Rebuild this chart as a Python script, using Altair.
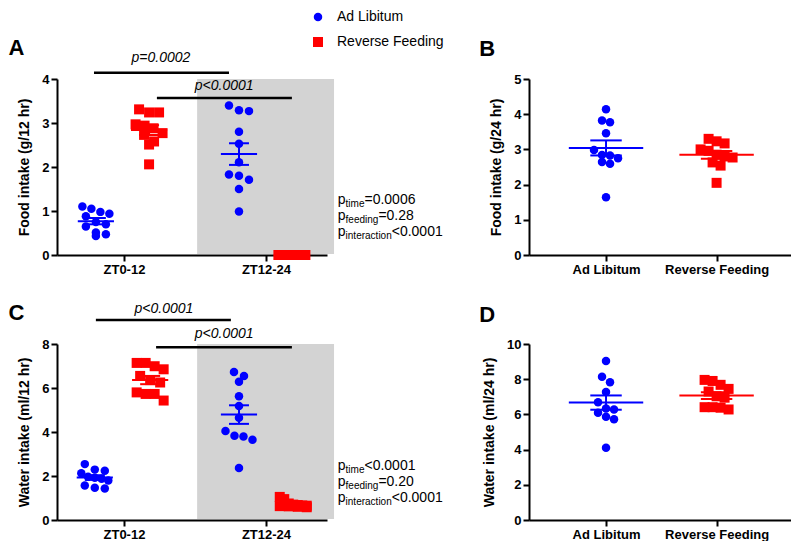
import altair as alt
import numpy as np
import pandas as pd

FONT = "Liberation Sans"
BLUE = "#0000ff"
RED = "#ff0000"
GRAY = "#d3d3d3"

SERIES = ["Ad Libitum", "Reverse Feeding"]
PHASES = ["ZT0-12", "ZT12-24"]

# ---------------- data ----------------
# Panel A: food intake (g/12 hr)
food12_al_zt0 = [1.10, 1.05, 0.98, 0.94, 0.88, 0.75, 0.70, 0.65, 0.51, 0.47, 0.43]
food12_rf_zt0 = [3.31, 3.24, 3.24, 2.97, 2.94, 2.88, 2.77, 2.73, 2.58, 2.51, 2.06]
food12_al_zt12 = [3.40, 3.29, 3.27, 2.80, 2.53, 2.11, 1.83, 1.80, 1.71, 1.50, 0.99]
food12_rf_zt12 = [0.0, 0.0, 0.0, 0.0, 0.0, 0.0, 0.0, 0.0, 0.0, 0.0, 0.0]
# Panel B: food intake (g/24 hr)
food24_al = [4.14, 3.82, 3.77, 3.46, 2.98, 2.84, 2.83, 2.75, 2.64, 2.59, 1.64]
food24_rf = [3.30, 3.23, 3.17, 3.00, 2.96, 2.85, 2.80, 2.77, 2.63, 2.54, 2.05]
# Panel C: water intake (ml/12 hr)
water12_al_zt0 = [2.54, 2.29, 2.24, 2.12, 1.97, 1.92, 1.87, 1.80, 1.57, 1.47, 1.43]
water12_rf_zt0 = [7.14, 7.14, 6.99, 6.85, 6.55, 6.36, 6.25, 5.80, 5.73, 5.73, 5.43]
water12_al_zt12 = [6.73, 6.55, 6.28, 5.63, 5.18, 4.65, 4.05, 3.83, 3.80, 3.65, 2.36]
water12_rf_zt12 = [1.05, 0.95, 0.75, 0.70, 0.68, 0.66, 0.65, 0.63, 0.62, 0.60, 0.58]
# Panel D: water intake (ml/24 hr)
water24_al = [9.03, 8.14, 7.83, 7.27, 6.69, 6.34, 6.28, 6.10, 5.87, 5.72, 4.11]
water24_rf = [7.96, 7.90, 7.68, 7.45, 7.30, 7.03, 6.95, 6.41, 6.41, 6.38, 6.28]

# comparison labels and two-way ANOVA results
a_compare = ["p=0.0002", "p<0.0001"]
c_compare = ["p<0.0001", "p<0.0001"]
stat_terms = ["time", "feeding", "interaction"]
a_stats = ["=0.0006", "=0.28", "<0.0001"]
c_stats = ["<0.0001", "=0.20", "<0.0001"]

# ---------------- layout ----------------
W12, W24 = 270, 262
H = 176

# Arial-like advance widths (per 1000 em) for subscript layout
CW = {"p": 556, "t": 278, "i": 222, "m": 833, "e": 556, "f": 278, "d": 556,
      "n": 556, "g": 556, "r": 333, "a": 556, "c": 500, "o": 556}


def text_w(s, size):
    return sum(CW.get(ch, 556) for ch in s) * size / 1000.0


def swarm(values, ppy, ppx, step_px=10.0, maxw_px=27.0, thresh_px=9.0):
    vals = np.asarray(values, dtype=float)
    order = np.argsort(-vals, kind="stable")
    rows, cur = [], []
    for idx in order:
        if cur and (vals[cur[0]] - vals[idx]) * ppy >= thresh_px:
            rows.append(cur)
            cur = []
        cur.append(idx)
    if cur:
        rows.append(cur)
    offs = np.zeros(len(vals))
    for row in rows:
        k = len(row)
        if k == 1:
            continue
        step = min(step_px, maxw_px / (k - 1))
        for j, idx in enumerate(row):
            offs[idx] = (j - (k - 1) / 2.0) * step / ppx
    return offs


XSCALE = alt.Scale(domain=[0, 10], nice=False, zero=False)
COLOR_SCALE = alt.Scale(domain=SERIES, range=[BLUE, RED])
SHAPE_SCALE = alt.Scale(domain=SERIES, range=["circle", "square"])
LEG = alt.Legend(orient="none", legendX=254, legendY=-69, title=None,
                 labelFont=FONT, labelFontSize=14, labelColor="black",
                 symbolSize=85, rowPadding=11, labelOffset=12,
                 symbolStrokeWidth=0, padding=0)


def make_panel(letter, letter_xy, groups, ytitle, ymax, ystep, ticks, labels,
               width, height, mean_hw, sem_hw, shade=None, brackets=None,
               stats=None, step_px=10.0, maxw_px=27.0):
    ppy = height / ymax
    ppx = width / 10.0
    pts, hrules, vrules = [], [], []
    for vals, series, center in groups:
        offs = swarm(vals, ppy, ppx, step_px, maxw_px)
        for v, o in zip(vals, offs):
            pts.append(dict(x=center + o, y=v, series=series))
        arr = np.asarray(vals, dtype=float)
        m = arr.mean()
        s = arr.std(ddof=1) / np.sqrt(len(arr))
        hrules.append(dict(x=center - mean_hw, x2=center + mean_hw, y=m, series=series))
        hrules.append(dict(x=center - sem_hw, x2=center + sem_hw, y=m + s, series=series))
        hrules.append(dict(x=center - sem_hw, x2=center + sem_hw, y=m - s, series=series))
        vrules.append(dict(x=center, y=m - s, y2=m + s, series=series))

    mid = (ticks[0] + ticks[1]) / 2.0
    xaxis = alt.Axis(values=ticks, title=None,
                     labelExpr=f"datum.value < {mid} ? '{labels[0]}' : '{labels[1]}'")
    yaxis = alt.Axis(values=list(np.arange(0, ymax + 0.001, ystep)), title=ytitle,
                     format="d")
    X = alt.X("x:Q", scale=XSCALE, axis=xaxis)
    Y = alt.Y("y:Q", scale=alt.Scale(domain=[0, ymax], nice=False), axis=yaxis)
    C = alt.Color("series:N", scale=COLOR_SCALE, legend=LEG)
    S = alt.Shape("series:N", scale=SHAPE_SCALE, legend=LEG)

    layers = []
    if shade is not None:
        sdf = pd.DataFrame([dict(x=shade[0], x2=shade[1], y=0, y2=ymax)])
        layers.append(alt.Chart(sdf).mark_rect(color=GRAY, yOffset=-1).encode(
            x=X, x2="x2:Q", y=Y, y2="y2:Q"))

    layers.append(alt.Chart(pd.DataFrame(pts)).mark_point(
        filled=True, opacity=1, strokeWidth=0).encode(
        x=X, y=Y, color=C, shape=S,
        size=alt.Size("series:N", scale=alt.Scale(domain=SERIES, range=[72, 100]),
                      legend=None)))
    layers.append(alt.Chart(pd.DataFrame(hrules)).mark_rule(strokeWidth=2).encode(
        x=X, x2="x2:Q", y=Y, color=C))
    layers.append(alt.Chart(pd.DataFrame(vrules)).mark_rule(strokeWidth=2).encode(
        x=X, y=Y, y2="y2:Q", color=C))

    if brackets is not None:
        bdf = pd.DataFrame([dict(x=b[0], x2=b[1], y=b[2]) for b in brackets])
        tdf = pd.DataFrame([dict(x=b[3], y=b[4], t=b[5]) for b in brackets])
        layers.append(alt.Chart(bdf).mark_rule(strokeWidth=2.5, color="black").encode(
            x=X, x2="x2:Q", y=Y))
        layers.append(alt.Chart(tdf).mark_text(
            font=FONT, fontSize=14, fontStyle="italic", color="black",
            align="center", baseline="middle").encode(x=X, y=Y, text="t:N"))

    if stats is not None:
        x0, ys, rests = stats
        main_size, sub_size = 14, 10
        wp = text_w("p", main_size) / ppx
        mains, subs = [], []
        for term, rest, yv in zip(stat_terms, rests, ys):
            mains.append(dict(x=x0, y=yv, t="p"))
            subs.append(dict(x=x0 + wp, y=yv, t=term))
            mains.append(dict(x=x0 + wp + text_w(term, sub_size) / ppx, y=yv, t=rest))
        layers.append(alt.Chart(pd.DataFrame(mains)).mark_text(
            font=FONT, fontSize=main_size, color="black", align="left",
            baseline="middle").encode(x=X, y=Y, text="t:N"))
        layers.append(alt.Chart(pd.DataFrame(subs)).mark_text(
            font=FONT, fontSize=sub_size, color="black", align="left",
            baseline="middle", dy=4).encode(x=X, y=Y, text="t:N"))

    ldf = pd.DataFrame([dict(x=letter_xy[0], y=letter_xy[1], t=letter)])
    layers.append(alt.Chart(ldf).mark_text(
        font=FONT, fontSize=22, fontWeight="bold", color="black",
        align="center", baseline="middle").encode(x=X, y=Y, text="t:N"))

    return alt.layer(*layers).properties(width=width, height=height)


ticks12 = [2.48, 7.74]
ticks24 = [2.94, 7.16]

panel_a = make_panel(
    "A", (-1.50, 4.70),
    [(food12_al_zt0, SERIES[0], 1.44), (food12_rf_zt0, SERIES[1], 3.41),
     (food12_al_zt12, SERIES[0], 6.74), (food12_rf_zt12, SERIES[1], 8.70)],
    "Food intake (g/12 hr)", 4, 1, ticks12, PHASES, W12, H, 0.67, 0.37,
    shade=(5.19, 10.26),
    brackets=[(1.37, 6.37, 4.14, 3.85, 4.48, a_compare[0]),
              (3.70, 8.70, 3.57, 6.19, 3.84, a_compare[1])],
    stats=(10.40, [1.25, 0.89, 0.53], a_stats))

panel_b = make_panel(
    "B", (-1.60, 5.85),
    [(food24_al, SERIES[0], 2.94), (food24_rf, SERIES[1], 7.16)],
    "Food intake (g/24 hr)", 5, 1, ticks24, SERIES, W24, H, 1.42, 0.6,
    step_px=8.0, maxw_px=32.0)

panel_c = make_panel(
    "C", (-1.50, 9.41),
    [(water12_al_zt0, SERIES[0], 1.40), (water12_rf_zt0, SERIES[1], 3.45),
     (water12_al_zt12, SERIES[0], 6.74), (water12_rf_zt12, SERIES[1], 8.75)],
    "Water intake (ml/12 hr)", 8, 2, ticks12, PHASES, W12, H, 0.67, 0.37,
    shade=(5.19, 10.26),
    brackets=[(1.44, 6.44, 9.09, 3.96, 9.58, c_compare[0]),
              (3.67, 8.70, 7.85, 6.19, 8.44, c_compare[1])],
    stats=(10.40, [2.45, 1.72, 0.99], c_stats))

panel_d = make_panel(
    "D", (-1.60, 11.65),
    [(water24_al, SERIES[0], 2.94), (water24_rf, SERIES[1], 7.16)],
    "Water intake (ml/24 hr)", 10, 2, ticks24, SERIES, W24, H, 1.42, 0.6,
    step_px=8.0, maxw_px=32.0)

chart = alt.concat(
    panel_a, panel_b, panel_c, panel_d, columns=2,
    spacing=alt.RowColnumber(row=89, column=202), bounds="flush",
).properties(
    padding={"left": 0, "top": 2, "right": 0, "bottom": 0}
).configure_view(strokeWidth=0).configure_axis(
    domainColor="black", domainWidth=2, tickColor="black", tickWidth=2,
    tickSize=6, labelFont=FONT, labelFontSize=13, labelFontWeight="bold",
    labelColor="black", labelPadding=2, titleFont=FONT, titleFontSize=14,
    titleFontWeight="bold", titleColor="black", titlePadding=10, grid=False,
)

chart.save("out.html", embed_options={"renderer": "svg", "actions": False})
